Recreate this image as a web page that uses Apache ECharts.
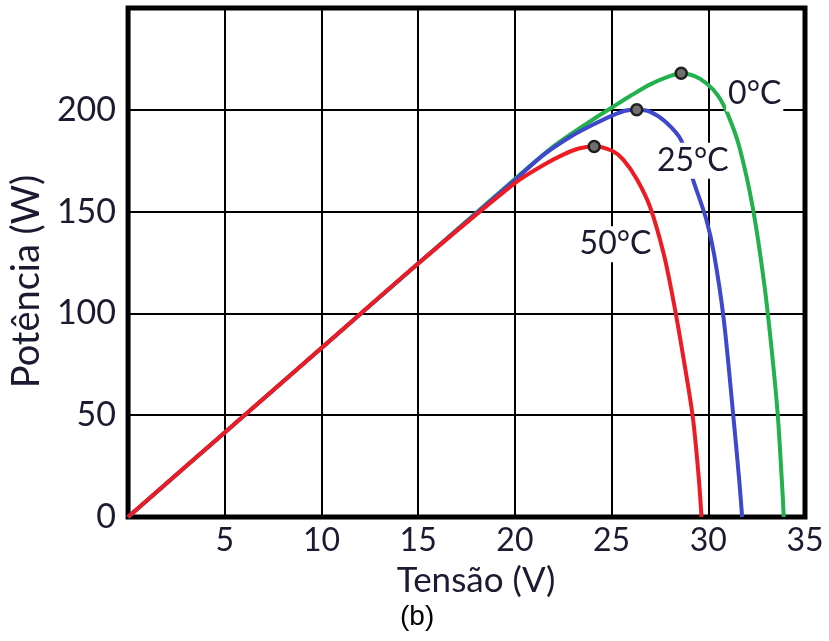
<!DOCTYPE html>
<html>
<head>
<meta charset="utf-8">
<script src="https://cdn.jsdelivr.net/npm/echarts@6/dist/echarts.min.js"></script>
<style>
  html, body { margin: 0; padding: 0; background: #fff; }
  #chart { width: 829px; height: 641px; }
</style>
</head>
<body>
<div id="chart"></div>
<script>
// curvas P-V (tensão V, potência W) para cada temperatura
var curva0 = [[0,0],[5,41.5],[10,83],[15,124.5],[20,166],[22,182],[24,195],[25,201],[26,207],[27,212.5],[28,216.5],[28.6,218],[29.3,216.5],[29.9,213],[30.5,207],[31,198],[31.6,182],[32.3,152],[32.9,114],[33.3,80],[33.6,49],[33.85,10],[33.9,0]];
var curva25 = [[0,0],[5,41.5],[10,83],[15,124.5],[20,165.5],[21.5,178],[23,187.5],[24,192.5],[25,197],[25.7,199.5],[26.3,200],[27,199],[27.8,194],[28.6,185],[29.2,166],[29.9,146],[30.3,129],[30.8,97],[31.3,49],[31.6,18],[31.75,0]];
var curva50 = [[0,0],[5,41.5],[10,83],[15,124.5],[20,164],[21.5,173],[22.5,178],[23.3,181],[24.1,182],[25,180],[25.6,175.5],[26.3,166],[27,152],[27.7,129],[28.2,106],[28.7,79],[29.2,49],[29.5,20],[29.65,0]];

// pontos de máxima potência
var mpp = [[28.6,218],[26.3,200],[24.1,182]];

// rótulos das curvas
var rotulos = ['0°C', '25°C', '50°C'];
var rotuloPos = [[32.4,208],[29.2,175],[25.2,134]];

var xTicks = [0, 5, 10, 15, 20, 25, 30, 35];
var yTicks = [0, 50, 100, 150, 200, 250];

var myChart = echarts.init(document.getElementById('chart'));
var fonte = 'Lato, "Open Sans", sans-serif';
var corTexto = '#1a1a30';

var option = {
    animation: false,
    grid: {
        left: 126, right: 24, top: 8, bottom: 124,
        show: true,
        borderColor: '#000',
        borderWidth: 5
    },
    xAxis: {
        type: 'value',
        min: xTicks[0], max: xTicks[xTicks.length - 1], interval: 5,
        name: 'Tensão (V)',
        nameLocation: 'middle',
        nameGap: 46,
        nameTextStyle: { fontFamily: fonte, fontSize: 35, color: corTexto, padding: [0, 0, 0, 19] },
        axisLine: { show: false },
        axisTick: { show: false },
        axisLabel: {
            fontFamily: fonte, fontSize: 32, color: corTexto, margin: 8,
            formatter: function (v) { return v === 0 ? '' : v; }
        },
        splitLine: { show: true, lineStyle: { color: '#000', width: 2 } }
    },
    yAxis: {
        type: 'value',
        min: yTicks[0], max: yTicks[yTicks.length - 1], interval: 50,
        name: 'Potência (W)',
        nameLocation: 'middle',
        nameGap: 77,
        nameTextStyle: { fontFamily: fonte, fontSize: 38, color: corTexto, padding: [0, 38, 0, 0] },
        axisLine: { show: false },
        axisTick: { show: false },
        axisLabel: {
            fontFamily: fonte, fontSize: 34, color: corTexto, margin: 12,
            padding: [0, 0, 16, 0],
            formatter: function (v) { return v === 250 ? '' : v; }
        },
        splitLine: { show: true, lineStyle: { color: '#000', width: 2 } }
    },
    series: [
        {
            name: '0°C', type: 'line', data: curva0, smooth: 0.3,
            showSymbol: false, lineStyle: { color: '#22b14c', width: 4 }, z: 3
        },
        {
            name: '25°C', type: 'line', data: curva25, smooth: 0.3,
            showSymbol: false, lineStyle: { color: '#3f48cc', width: 4 }, z: 4
        },
        {
            name: '50°C', type: 'line', data: curva50, smooth: 0.3,
            showSymbol: false, lineStyle: { color: '#ed1c24', width: 4 }, z: 5
        },
        {
            type: 'scatter', data: mpp, symbol: 'circle', symbolSize: 11,
            itemStyle: { color: '#707070', borderColor: '#202020', borderWidth: 2.5, opacity: 1 }, z: 6
        },
        {
            type: 'scatter', symbolSize: 0, z: 7,
            itemStyle: { opacity: 1 },
            data: rotuloPos.map(function (p, i) { return { value: p, name: rotulos[i] }; }),
            label: {
                show: true, position: 'inside', formatter: '{b}',
                fontFamily: fonte, fontSize: 32, color: corTexto,
                backgroundColor: '#fff', padding: [2, 2, 2, 2]
            }
        }
    ],
    graphic: [{
        type: 'text', left: 400, top: 603,
        style: { text: '(b)', font: '28px "Liberation Sans", Arial, sans-serif', fill: '#000' }
    }]
};

myChart.setOption(option);
window.addEventListener('resize', function () { myChart.resize(); });
</script>
</body>
</html>
